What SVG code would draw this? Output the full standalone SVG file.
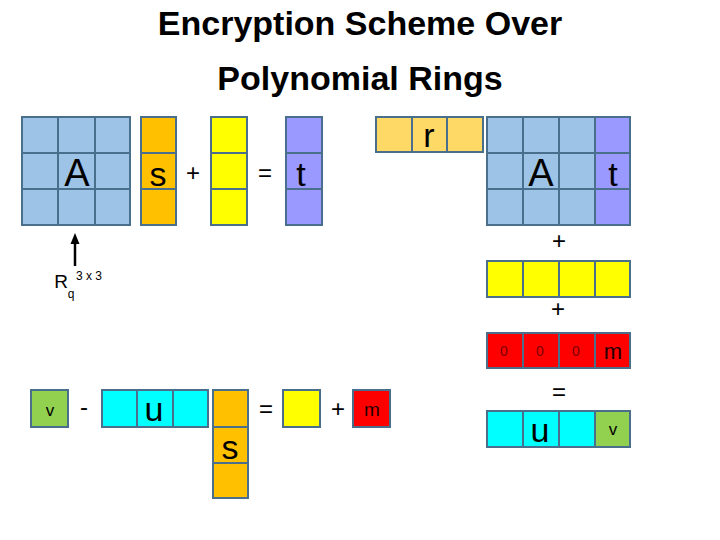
<svg xmlns="http://www.w3.org/2000/svg" width="720" height="540" viewBox="0 0 720 540">
<style>
.c{stroke:#4A6F8C;stroke-width:2}
.b{fill:#9DC3E6}.o{fill:#FFC000}.y{fill:#FFFF00}.p{fill:#9999FF}.g{fill:#FFD966}.cy{fill:#00FFFF}.gr{fill:#92D050}.r{fill:#FF0000}
text{font-family:"Liberation Sans",Arial,sans-serif;fill:#000;text-anchor:middle}
.t{font-weight:bold;font-size:34px}
.big{font-size:38px}.mid{font-size:34px}.op{font-size:24px}.sm{font-size:17px}
.z{font-size:14px;fill:#7A0000}
</style>
<g id="title">
<text class="t" x="360" y="35">Encryption Scheme Over</text>
<text class="t" x="360" y="90">Polynomial Rings</text>
</g>
<g id="matrixA">
<rect class="c b" x="22" y="117" width="36" height="36"/><rect class="c b" x="58" y="117" width="37" height="36"/><rect class="c b" x="95" y="117" width="35" height="36"/>
<rect class="c b" x="22" y="153" width="36" height="36"/><rect class="c b" x="58" y="153" width="37" height="36"/><rect class="c b" x="95" y="153" width="35" height="36"/>
<rect class="c b" x="22" y="189" width="36" height="36"/><rect class="c b" x="58" y="189" width="37" height="36"/><rect class="c b" x="95" y="189" width="35" height="36"/>
<text class="big" x="77" y="186">A</text>
</g>
<g id="vecS">
<rect class="c o" x="141" y="117" width="35" height="36"/><rect class="c o" x="141" y="153" width="35" height="36"/><rect class="c o" x="141" y="189" width="35" height="36"/>
<text class="mid" x="158" y="186">s</text>
</g>
<text id="plus1" class="op" x="193" y="181">+</text>
<g id="vecE">
<rect class="c y" x="211" y="117" width="36" height="36"/><rect class="c y" x="211" y="153" width="36" height="36"/><rect class="c y" x="211" y="189" width="36" height="36"/>
</g>
<text id="eq1" class="op" x="265" y="181">=</text>
<g id="vecT">
<rect class="c p" x="286" y="117" width="36" height="36"/><rect class="c p" x="286" y="153" width="36" height="36"/><rect class="c p" x="286" y="189" width="36" height="36"/>
<text class="mid" x="301" y="186">t</text>
</g>
<g id="vecR">
<rect class="c g" x="376" y="117" width="36" height="35"/><rect class="c g" x="412" y="117" width="35" height="35"/><rect class="c g" x="447" y="117" width="36" height="35"/>
<text class="mid" x="429" y="147">r</text>
</g>
<g id="matrixAt">
<rect class="c b" x="487" y="117" width="36" height="36"/><rect class="c b" x="523" y="117" width="36" height="36"/><rect class="c b" x="559" y="117" width="36" height="36"/><rect class="c p" x="595" y="117" width="35" height="36"/>
<rect class="c b" x="487" y="153" width="36" height="36"/><rect class="c b" x="523" y="153" width="36" height="36"/><rect class="c b" x="559" y="153" width="36" height="36"/><rect class="c p" x="595" y="153" width="35" height="36"/>
<rect class="c b" x="487" y="189" width="36" height="36"/><rect class="c b" x="523" y="189" width="36" height="36"/><rect class="c b" x="559" y="189" width="36" height="36"/><rect class="c p" x="595" y="189" width="35" height="36"/>
<text class="big" x="541" y="186">A</text>
<text class="mid" x="613" y="186">t</text>
</g>
<text id="plus2" class="op" x="559" y="249">+</text>
<g id="rowE">
<rect class="c y" x="487" y="261" width="36" height="36"/><rect class="c y" x="523" y="261" width="36" height="36"/><rect class="c y" x="559" y="261" width="36" height="36"/><rect class="c y" x="595" y="261" width="35" height="36"/>
</g>
<text id="plus3" class="op" x="558" y="317">+</text>
<g id="rowM">
<rect class="c r" x="487" y="333" width="36" height="35"/><rect class="c r" x="523" y="333" width="36" height="35"/><rect class="c r" x="559" y="333" width="36" height="35"/><rect class="c r" x="595" y="333" width="35" height="35"/>
<text class="z" x="504" y="356">0</text><text class="z" x="540" y="356">0</text><text class="z" x="576" y="356">0</text>
<text x="613" y="359" style="font-size:22px;fill:#200">m</text>
</g>
<text id="eq2" class="op" x="559" y="400">=</text>
<g id="rowUV">
<rect class="c cy" x="487" y="411" width="36" height="36"/><rect class="c cy" x="523" y="411" width="36" height="36"/><rect class="c cy" x="559" y="411" width="36" height="36"/><rect class="c gr" x="595" y="411" width="35" height="36"/>
<text class="mid" x="540" y="442">u</text>
<text class="sm" x="613" y="435">v</text>
</g>
<g id="ring">
<text x="61" y="288" style="font-size:19px">R</text>
<text x="71" y="298" style="font-size:12px">q</text>
<text x="89" y="280" style="font-size:12px">3 x 3</text>
</g>
<g id="connectors">
<line x1="75" y1="266" x2="75" y2="242" stroke="#000" stroke-width="2.5"/>
<polygon points="70.5,244 79.5,244 75,233" fill="#000"/>
</g>
<g id="boxV">
<rect class="c gr" x="31" y="390" width="37" height="37"/>
<text class="sm" x="50" y="416">v</text>
</g>
<text id="minus" class="op" x="84" y="415">-</text>
<g id="rowU">
<rect class="c cy" x="102" y="390" width="35" height="37"/><rect class="c cy" x="137" y="390" width="36" height="37"/><rect class="c cy" x="173" y="390" width="35" height="37"/>
<text class="mid" x="154" y="421">u</text>
</g>
<g id="colS">
<rect class="c o" x="213" y="390" width="35" height="37"/><rect class="c o" x="213" y="427" width="35" height="36"/><rect class="c o" x="213" y="463" width="35" height="35"/>
<text class="mid" x="230" y="459">s</text>
</g>
<text id="eq3" class="op" x="266" y="417">=</text>
<g id="boxE">
<rect class="c y" x="283" y="390" width="37" height="37"/>
</g>
<text id="plus4" class="op" x="338" y="417">+</text>
<g id="boxM">
<rect class="c r" x="353" y="390" width="37" height="37"/>
<text x="372" y="416" style="font-size:19px;fill:#200">m</text>
</g>
</svg>
